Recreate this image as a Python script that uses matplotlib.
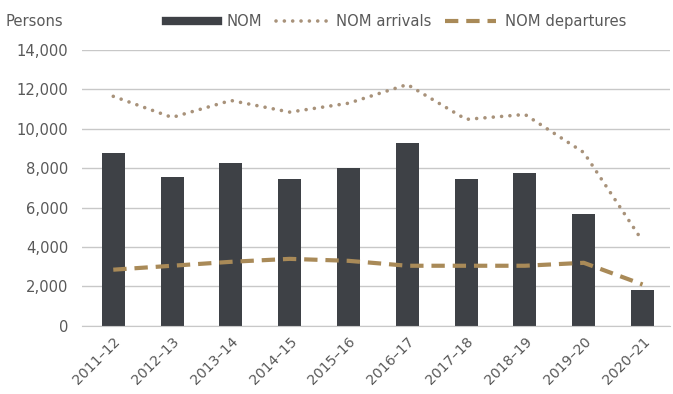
import numpy as np
import matplotlib.pyplot as plt
from matplotlib.lines import Line2D
from matplotlib.ticker import FuncFormatter

years = ['2011–12', '2012–13', '2013–14', '2014–15', '2015–16',
         '2016–17', '2017–18', '2018–19', '2019–20', '2020–21']
nom = [8760, 7540, 8250, 7440, 8000, 9270, 7440, 7750, 5670, 1820]
arrivals = [11650, 10580, 11440, 10850, 11300, 12250, 10480, 10730, 8800, 4300]
departures = [2850, 3050, 3250, 3400, 3300, 3050, 3050, 3050, 3200, 2100]

bar_col = '#3e4146'
arr_col = '#a8927a'
dep_col = '#a98a58'
grid_col = '#c8c8c8'
txt_col = '#595959'

plt.rcParams['font.family'] = ['DejaVu Sans']
fs = 10.6

fig = plt.figure(figsize=(6.73, 3.94), dpi=100)
ax = fig.add_axes([0.122, 0.173, 0.873, 0.700])

x = np.arange(len(years))
dots = (0, (0.01, 2.3))
dashes = (0, (3.2, 1.9))
ax.bar(x, nom, width=0.39, color=bar_col, zorder=2)
ax.plot(x, arrivals, color=arr_col, linestyle=dots, linewidth=2.6,
        dash_capstyle='round', zorder=3)
ax.plot(x, departures, color=dep_col, linestyle=dashes, linewidth=3,
        zorder=3)

ax.set_xlim(-0.53, 9.46)
ax.set_ylim(0, 14000)
ax.set_yticks(range(0, 14001, 2000))
ax.yaxis.set_major_formatter(FuncFormatter(lambda v, p: f'{int(v):,}'))
ax.grid(axis='y', color=grid_col, linewidth=1, zorder=0)
ax.set_axisbelow(True)
for s in ['top', 'right', 'left']:
    ax.spines[s].set_visible(False)
ax.spines['bottom'].set_color(grid_col)
ax.tick_params(axis='both', length=0, colors=txt_col, labelsize=fs)
ax.set_xticks(x)
ax.set_xticklabels(years, rotation=45, ha='right', rotation_mode='anchor',
                   fontsize=fs - 0.4)
ax.tick_params(axis='x', pad=6)
ax.tick_params(axis='y', pad=10)

fig.text(0.008, 0.945, 'Persons', color=txt_col, fontsize=fs, va='center')

handles = [
    Line2D([], [], color=bar_col, linewidth=6),
    Line2D([], [], color=arr_col, linestyle=dots, linewidth=2.6,
           dash_capstyle='round'),
    Line2D([], [], color=dep_col, linestyle=dashes, linewidth=3),
]
fig.legend(handles, ['NOM', 'NOM arrivals', 'NOM departures'],
           loc='center', bbox_to_anchor=(0.589, 0.945), ncol=3, frameon=False,
           fontsize=fs, handlelength=3.5, columnspacing=0.9, handletextpad=0.6,
           labelcolor=txt_col)

fig.savefig('out.png', dpi=100)
